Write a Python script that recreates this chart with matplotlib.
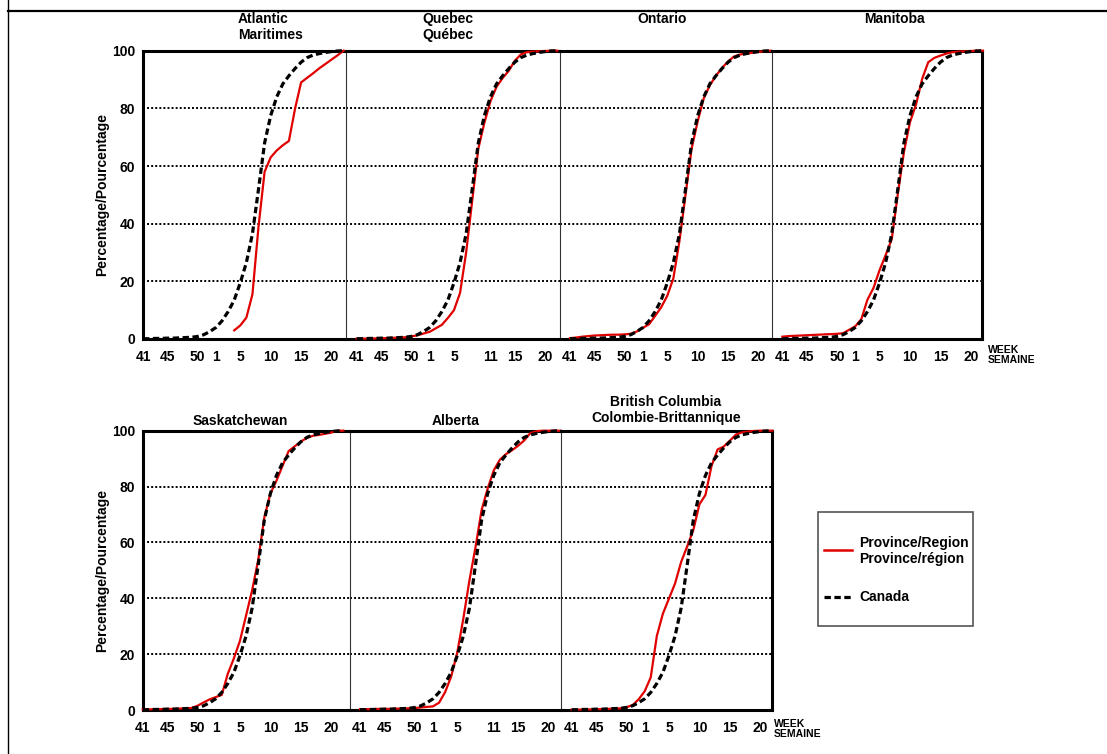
import numpy as np
import matplotlib
matplotlib.use("Agg")
import matplotlib.pyplot as plt
from matplotlib.lines import Line2D
from matplotlib.patches import Rectangle

plt.rcParams["font.family"] = ["Liberation Sans", "DejaVu Sans"]
plt.rcParams["font.weight"] = "bold"
plt.rcParams["font.size"] = 10

W, H = 1107, 754

# season weeks: 41..52 then 1..22
weeks = list(range(41, 53)) + list(range(1, 23))
ticks_std = [41, 45, 50, 1, 5, 10, 15, 20]
ticks_alt = [41, 45, 50, 1, 5, 11, 15, 20]

nan = np.nan
canada = [0.1, 0.1, 0.2, 0.2, 0.3, 0.3, 0.4, 0.5, 0.6, 0.9,
          1.5, 2.6, 4.0, 6.3, 9.5, 13.5, 19.5, 26.5, 36.5, 52,
          68, 77.5, 84, 88.5, 91.3, 93.8, 96, 97.6, 98.5, 99,
          99.4, 99.7, 99.9, 100]
atlantic = [nan] * 15 + [3, 4.7, 7.4, 15.5, 39, 58, 63, 65.4, 67.2, 68.7,
                         79.8, 89, 90.6, 92.2, 93.9, 95.4, 96.9, 98.4, 100]
quebec = [0.1, 0.1, 0.2, 0.2, 0.3, 0.3, 0.4, 0.5, 0.6, 0.9,
          1.3, 1.9, 2.5, 3.7, 4.9, 7.3, 10, 16, 30, 48,
          66, 75, 82.5, 87.5, 90.5, 93, 96.5, 98.7, 99.5, 99.7,
          99.8, 99.9, 100, 100]
ontario = [0.3, 0.5, 0.8, 1.0, 1.2, 1.3, 1.4, 1.5, 1.5, 1.6,
           1.8, 2.6, 3.9, 5.1, 8.0, 11, 15, 21, 34, 50,
           66, 75.5, 83.5, 88, 91.3, 94, 96.3, 98, 98.7, 99,
           99.3, 99.6, 99.8, 100]
manitoba = [0.8, 1.0, 1.1, 1.2, 1.3, 1.4, 1.5, 1.6, 1.7, 1.8,
            2.0, 3.2, 4.4, 6.9, 13.6, 17.7, 23.9, 29.1, 34.6, 50.3,
            64.8, 75.2, 81.4, 90.2, 96, 97.5, 98.3, 99, 99.5, 99.7,
            99.8, 99.9, 100, 100]
saskatchewan = [0.2, 0.2, 0.3, 0.3, 0.4, 0.4, 0.5, 0.6, 0.7, 1.5,
                2.7, 3.8, 4.6, 5.4, 13, 18.5, 24.8, 33.8, 42.9, 53.7,
                68.9, 77.5, 82.1, 87.4, 92.7, 94.4, 96.1, 97.4, 98.2, 98.5,
                98.9, 99.3, 100, 100]
alberta = [0.3, 0.3, 0.3, 0.4, 0.4, 0.4, 0.5, 0.5, 0.6, 0.7,
           0.9, 1.1, 1.3, 2.6, 6.4, 12, 20.6, 32.8, 46.4, 58.3,
           71.6, 79.3, 85.8, 89.6, 91.6, 93, 94.6, 96.5, 99.1, 99.8,
           100, 100, 100, 100]
bc = [0.1, 0.1, 0.2, 0.2, 0.3, 0.3, 0.4, 0.5, 0.6, 1.0,
      1.7, 3.8, 6.7, 11.7, 26.5, 34.5, 39.9, 45.3, 53, 58.6,
      64.4, 73.6, 77, 87.4, 93.3, 94.3, 96.4, 98.6, 99.4, 99.7,
      99.9, 100, 100, 100]

RED = "#e00000"
PXW = 6.08  # pixels per week


def fx(x):
    return x / W


def fy(y):
    return 1 - y / H


fig = plt.figure(figsize=(W / 100, H / 100), dpi=100)

# page frame lines
fig.add_artist(Line2D([fx(8), fx(8)], [0, 1], color="black", lw=1.0))
fig.add_artist(Line2D([fx(8), 1], [fy(10.5), fy(10.5)], color="black", lw=1.6))

rows = [
    dict(top=50.7, bottom=339, edges=[143, 346.3, 560.3, 772.3, 982],
         x0=[143, 356.7, 570, 782.3],
         series=[atlantic, quebec, ontario, manitoba],
         ticks=[ticks_std, ticks_alt, ticks_std, ticks_std]),
    dict(top=430.7, bottom=710, edges=[142.7, 350.3, 561, 772],
         x0=[142.7, 360, 571.7],
         series=[saskatchewan, alberta, bc],
         ticks=[ticks_std, ticks_alt, ticks_std]),
]

idx = np.arange(len(weeks))

for row in rows:
    n = len(row["series"])
    for i in range(n):
        left, right = row["edges"][i], row["edges"][i + 1]
        ax = fig.add_axes([fx(left), fy(row["bottom"]),
                           (right - left) / W, (row["bottom"] - row["top"]) / H])
        x0 = row["x0"][i]
        ax.set_xlim((left - x0) / PXW, (right - x0) / PXW)
        ax.set_ylim(0, 100)
        for yv in [20, 40, 60, 80]:
            ax.axhline(yv, color="black", lw=1.4, ls=(0, (1, 1.1)), zorder=1)
        ax.plot(idx, row["series"][i], color=RED, lw=1.6, zorder=3,
                clip_on=False)
        ax.plot(idx, canada, color="black", lw=2.3, dashes=(2.0, 1.1),
                zorder=4, clip_on=False)
        tw = row["ticks"][i]
        ax.set_xticks([weeks.index(w) for w in tw])
        ax.set_xticklabels([str(w) for w in tw])
        ax.tick_params(axis="x", length=0, pad=8, labelsize=10)
        if i == 0:
            ax.set_yticks([0, 20, 40, 60, 80, 100])
            ax.tick_params(axis="y", length=0, pad=5.5, labelsize=10)
        else:
            ax.set_yticks([])
        for s in ["top", "bottom"]:
            ax.spines[s].set_linewidth(2.2)
        ax.spines["left"].set_linewidth(2.2 if i == 0 else 0.8)
        if i == 0:
            ax.spines["left"].set_linewidth(2.2)
        else:
            ax.spines["left"].set_color("#333333")
        if i == n - 1:
            ax.spines["right"].set_linewidth(2.2)
        else:
            ax.spines["right"].set_visible(False)
        ax.set_facecolor("none")

# y axis labels
for yc in [(50.7 + 339) / 2, (430.7 + 710) / 2]:
    fig.text(fx(102), fy(yc), "Percentage/Pourcentage", rotation=90,
             ha="center", va="center", fontsize=10)

# panel titles
fig.text(fx(238), fy(12), "Atlantic\nMaritimes", ha="left", va="top",
         linespacing=1.15)
fig.text(fx(422.7), fy(12), "Quebec\nQuébec", ha="left", va="top",
         linespacing=1.15)
fig.text(fx(662.5), fy(12), "Ontario", ha="center", va="top")
fig.text(fx(894), fy(12), "Manitoba", ha="center", va="top")
fig.text(fx(240.5), fy(414), "Saskatchewan", ha="center", va="top")
fig.text(fx(455.5), fy(414), "Alberta", ha="center", va="top")
fig.text(fx(666), fy(395), "British Columbia\nColombie-Brittannique",
         ha="center", va="top", multialignment="center", linespacing=1.15)

# week labels
fig.text(fx(988), fy(345), "WEEK\nSEMAINE", ha="left", va="top",
         fontsize=7.5, linespacing=1.05)
fig.text(fx(774), fy(719), "WEEK\nSEMAINE", ha="left", va="top",
         fontsize=7.5, linespacing=1.05)

# legend box
fig.add_artist(Rectangle((fx(818.3), fy(625.7)), (973.3 - 818.3) / W,
                         (625.7 - 511.7) / H, facecolor="white",
                         edgecolor="#555555", lw=1.2))
fig.add_artist(Line2D([fx(824.3), fx(851.7)], [fy(550), fy(550)],
                      color=RED, lw=1.8))
fig.add_artist(Line2D([fx(824.3), fx(851.7)], [fy(597.3), fy(597.3)],
                      color="black", lw=2.3, dashes=(2.0, 1.1)))
fig.text(fx(859.3), fy(551), "Province/Region\nProvince/région",
         ha="left", va="center", linespacing=1.15)
fig.text(fx(859.3), fy(597), "Canada", ha="left", va="center")

fig.savefig("out.png", dpi=100, facecolor="white")
